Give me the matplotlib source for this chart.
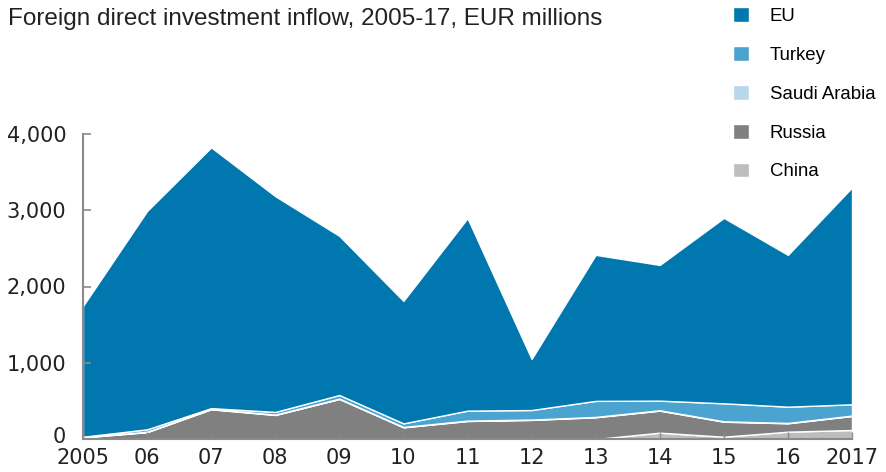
import matplotlib
matplotlib.use("Agg")
import matplotlib.pyplot as plt
import matplotlib.transforms as mtransforms
import numpy as np

plt.rcParams['font.family'] = ['Liberation Sans', 'DejaVu Sans']

# Dane (EUR mln), warstwy od dołu
years = [2005, 2006, 2007, 2008, 2009, 2010, 2011, 2012, 2013, 2014, 2015, 2016, 2017]
china = [0, 0, 0, 0, 0, 0, 0, 0, 0, 83, 30, 96, 118]
russia = [20, 90, 390, 315, 525, 153, 236, 250, 285, 289, 197, 110, 184]
saudi = [5, 5, 5, 5, 5, 5, 5, 5, 5, 5, 5, 5, 5]
turkey = [5, 32, 10, 35, 47, 47, 131, 125, 210, 126, 236, 213, 148]
eu = [1715, 2863, 3420, 2830, 2087, 1606, 2525, 670, 1915, 1780, 2432, 1991, 2845]

xlabels = ["2005", "06", "07", "08", "09", "10", "11", "12", "13", "14", "15", "16", "2017"]
yticks = [0, 1000, 2000, 3000, 4000]

names = ["China", "Russia", "Saudi Arabia", "Turkey", "EU"]
colors = ["#bdbdbd", "#808080", "#b8d7ec", "#4ba3cf", "#0077ae"]

fig = plt.figure(figsize=(8.87, 4.72), dpi=100)
ax = fig.add_axes([83/887, 1 - 439/472, (852 - 83)/887, (439 - 134)/472])

polys = ax.stackplot(years, china, russia, saudi, turkey, eu,
                     colors=colors, edgecolor="white", linewidth=1.0)

ax.set_xlim(2005, 2017)
ax.set_ylim(0, 4000)
ax.set_xticks(years)
ax.set_xticklabels(xlabels, family="DejaVu Sans")
ax.set_yticks(yticks)
ax.set_yticklabels([f"{v:,}" for v in yticks], family="DejaVu Sans")

for s in ["top", "right"]:
    ax.spines[s].set_visible(False)
for s in ["left", "bottom"]:
    ax.spines[s].set_color("#8a8a8a")
    ax.spines[s].set_linewidth(1.5)

ax.tick_params(axis="y", direction="in", length=6, width=1.2, color="#8a8a8a",
               labelsize=15, pad=12, labelcolor="#222222")
ax.tick_params(axis="x", direction="in", length=5, width=1.0, color="#8a8a8a",
               labelsize=15, pad=6.5, labelcolor="#222222")

# "0" lekko w górę, żeby nie nachodził na "2005"
lbl0 = ax.get_yticklabels()[0]
lbl0.set_transform(lbl0.get_transform() + mtransforms.ScaledTranslation(0, 4/100, fig.dpi_scale_trans))

fig.text(8/887, 1 - 19/472, "Foreign direct investment inflow, 2005-17, EUR millions",
         fontsize=17.5, color="#222222", va="center", ha="left")

# Legenda: od góry EU ... China
handles = polys[::-1]
labels = names[::-1]
fig.legend(handles, labels, loc="upper left", bbox_to_anchor=(726/887, 1 - 0/472),
           frameon=False, fontsize=13.4, handlelength=0.86, handleheight=0.86,
           handletextpad=1.08, labelspacing=1.12, borderaxespad=0)

fig.savefig("out.png", dpi=100)
